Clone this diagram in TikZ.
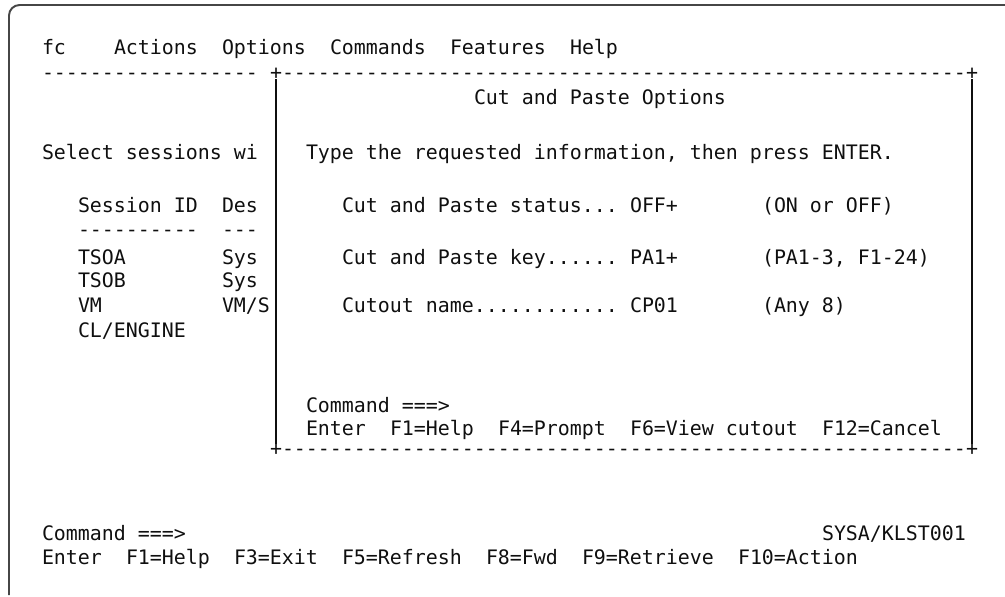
\documentclass[tikz,border=0pt]{standalone}
\usepackage{fontspec}
\newfontfamily\scrfont{DejaVu Sans Mono}[Ligatures=TeXOff]
\usepackage{tikz}
\definecolor{scrink}{RGB}{15,15,15}
\definecolor{framegray}{RGB}{70,70,70}
\tikzset{
  txt/.style={anchor=base west, inner sep=0pt, outer sep=0pt, text=scrink,
    font=\scrfont\fontsize{11.34pt}{13pt}\selectfont},
  vbar/.style={line width=0.9pt, color=scrink},
  frame/.style={line width=1.1pt, color=framegray, rounded corners=6pt}
}
\newcommand{\dashes}[1]{\foreach \d in {1,...,#1}{-}}

\begin{document}
\begin{tikzpicture}[x=0.24cm, y=-0.02cm]
  % x: one unit per screen column, y: pixels downwards
  \useasboundingbox (-3.5,0) rectangle (80.25,596);
  \draw[frame] (80.25,5) -- (-2.75,5) -- (-2.75,595);

  % action bar
  \node[txt] (fc) at (0,54) {fc};
  \node[txt] (actions) at (6,54) {Actions};
  \node[txt] (options) at (15,54) {Options};
  \node[txt] (commands) at (24,54) {Commands};
  \node[txt] (features) at (34,54) {Features};
  \node[txt] (help) at (44,54) {Help};

  % separator and top edge of the pop-up
  \node[txt] (sep) at (0,79) {\dashes{18}};
  \node[txt] (tl) at (19,79) {+};
  \node[txt] (topedge) at (20,79) {\dashes{57}};
  \node[txt] (tr) at (77,79) {+};

  % session list behind the pop-up
  \node[txt] (select) at (0,159) {Select sessions wi};
  \node[txt] (sessid) at (3,212) {Session ID};
  \node[txt] (des) at (15,212) {Des};
  \node[txt] (sessline) at (3,236) {\dashes{10}};
  \node[txt] (desline) at (15,236) {\dashes{3}};
  \node[txt] (tsoa) at (3,264) {TSOA};
  \node[txt] (tsoadesc) at (15,264) {Sys};
  \node[txt] (tsob) at (3,287) {TSOB};
  \node[txt] (tsobdesc) at (15,287) {Sys};
  \node[txt] (vm) at (3,312) {VM};
  \node[txt] (vmdesc) at (15,312) {VM/S};
  \node[txt] (clengine) at (3,337) {CL/ENGINE};

  % pop-up window
  \node[txt] (title) at (36,104) {Cut and Paste Options};
  \node[txt] (prompt) at (22,159) {Type the requested information, then press ENTER.};
  \node[txt] (status) at (25,212) {Cut and Paste status...};
  \node[txt] (statusval) at (49,212) {OFF+};
  \node[txt] (statushint) at (60,212) {(ON or OFF)};
  \node[txt] (key) at (25,264) {Cut and Paste key......};
  \node[txt] (keyval) at (49,264) {PA1+};
  \node[txt] (keyhint) at (60,264) {(PA1-3, F1-24)};
  \node[txt] (cutout) at (25,312) {Cutout name............};
  \node[txt] (cutoutval) at (49,312) {CP01};
  \node[txt] (cutouthint) at (60,312) {(Any 8)};
  \node[txt] (popcmd) at (22,412) {Command ===>};
  \foreach \c/\k [count=\i] in {22/Enter, 29/F1=Help, 38/F4=Prompt, 49/F6=View cutout, 65/F12=Cancel}
    \node[txt] (popkey\i) at (\c,435) {\k};

  % bottom edge and sides of the pop-up
  \node[txt] (bl) at (19,455) {+};
  \node[txt] (botedge) at (20,455) {\dashes{57}};
  \node[txt] (br) at (77,455) {+};
  \draw[vbar] (tl.south) -- (bl.north);
  \draw[vbar] (tr.south) -- (br.north);

  % command line and function keys
  \node[txt] (cmd) at (0,540) {Command ===>};
  \node[txt] (sysid) at (65,540) {SYSA/KLST001};
  \foreach \c/\k [count=\i] in {0/Enter, 7/F1=Help, 16/F3=Exit, 25/F5=Refresh, 37/F8=Fwd, 45/F9=Retrieve, 58/F10=Action}
    \node[txt] (fkey\i) at (\c,564) {\k};
\end{tikzpicture}
\end{document}
